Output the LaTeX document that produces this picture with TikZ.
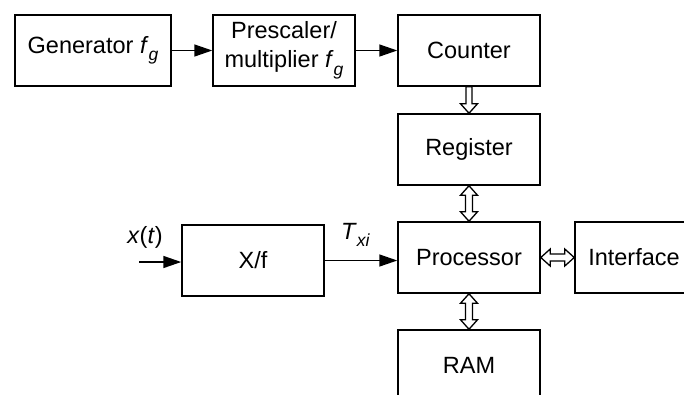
\documentclass[tikz,border=0pt]{standalone}
\usepackage{fontspec}
\setmainfont{Liberation Sans}
\usetikzlibrary{arrows.meta,calc}

\newcommand\boxfont{\fontsize{23.5}{29}\selectfont}
% lowered italic index, as in f_g and T_xi
\newcommand\idx[1]{\raisebox{-7.5pt}{\fontsize{17.5}{17.5}\selectfont\itshape #1}}

% hollow double-headed bus arrow, vertical, tip at #1 (top) and #2 (bottom)
\newcommand\vbus[2]{%
  \path[bus] let \p1=(#1), \p2=(#2) in
    (\x1,\y1) -- (\x1+8.5pt,\y1-9.5pt) -- (\x1+3.5pt,\y1-9.5pt)
    -- (\x1+3.5pt,\y2+9.5pt) -- (\x1+8.5pt,\y2+9.5pt) -- (\x1,\y2)
    -- (\x1-8.5pt,\y2+9.5pt) -- (\x1-3.5pt,\y2+9.5pt)
    -- (\x1-3.5pt,\y1-9.5pt) -- (\x1-8.5pt,\y1-9.5pt) -- cycle;}
% hollow double-headed bus arrow, horizontal, tips at #1 (left) and #2 (right)
\newcommand\hbus[2]{%
  \path[bus] let \p1=(#1), \p2=(#2) in
    (\x1,\y1) -- (\x1+9.5pt,\y1+8.5pt) -- (\x1+9.5pt,\y1+3.5pt)
    -- (\x2-9.5pt,\y1+3.5pt) -- (\x2-9.5pt,\y1+8.5pt) -- (\x2,\y1)
    -- (\x2-9.5pt,\y1-8.5pt) -- (\x2-9.5pt,\y1-3.5pt)
    -- (\x1+9.5pt,\y1-3.5pt) -- (\x1+9.5pt,\y1-8.5pt) -- cycle;}
% hollow single-headed bus arrow, vertical, from #1 (top) down to tip #2
\newcommand\vbusone[2]{%
  \path[bus] let \p1=(#1), \p2=(#2) in
    (\x1-3pt,\y1) -- (\x1+3pt,\y1)
    -- (\x1+3pt,\y2+9.5pt) -- (\x1+8.5pt,\y2+9.5pt) -- (\x1,\y2)
    -- (\x1-8.5pt,\y2+9.5pt) -- (\x1-3pt,\y2+9.5pt) -- cycle;}

\begin{document}
\begin{tikzpicture}[x=1pt,y=1pt,
  box/.style={draw, line width=1.5pt, minimum width=142pt, minimum height=71pt,
              inner sep=0pt, align=center, font=\boxfont},
  flow/.style={line width=1.5pt, -{Triangle[length=18pt,width=12pt]}},
  bus/.style={draw, line width=1.3pt, fill=white, line join=miter},
  txt/.style={font=\boxfont, inner sep=0pt}]
\useasboundingbox (0,0) rectangle (684,-394);
\clip (0,0) rectangle (684,-394);

% blocks
\node[box, minimum width=156pt] (gen) at (93,-50.5) {Generator \textit{f}\idx{g}};
\node[box] (pre) at (284,-50.5) {Prescaler/\\multiplier \textit{f}\idx{g}};
\node[box] (cnt) at (469,-50.5) {Counter};
\node[box] (reg) at (469,-149.5) {Register};
\node[box] (proc) at (469,-257.5) {Processor};
\node[box, minimum width=118pt] (intf) at (634,-257.5) {Interface};
\node[box] (xf) at (253,-260.5) {X/f};
\node[box] (ram) at (469,-365.5) {RAM};

% signal labels
\node[txt] (xt) at (145,-237) {\textit{x}(\textit{t})};
\node[txt, anchor=base west] (txi) at (341,-239) {\textit{T}\idx{xi}};

% signal flow
\coordinate (xin) at (139,-262);
\draw[flow] (xin) -- (xin -| xf.west);
\draw[flow] (gen) -- (pre);
\draw[flow] (pre) -- (cnt);
\draw[flow] (xf.east) -- (xf.east -| proc.west);

% data buses
\vbusone{cnt.south}{reg.north}
\vbus{reg.south}{proc.north}
\vbus{proc.south}{ram.north}
\hbus{proc.east}{intf.west}
\end{tikzpicture}
\end{document}
